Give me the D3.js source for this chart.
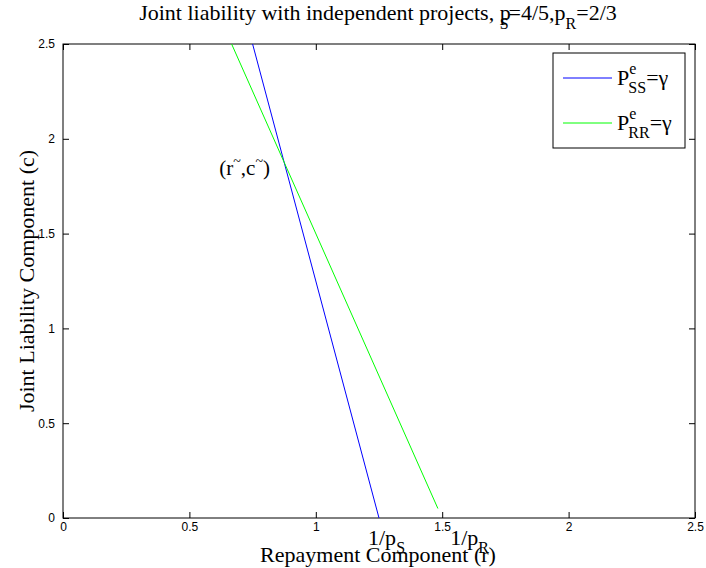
<!DOCTYPE html>
<html>
<head>
<meta charset="utf-8">
<script src="https://cdn.jsdelivr.net/npm/d3@7"></script>
<style>
body { margin:0; background:#fff; }
svg { display:block; }
.serif { font-family: "Liberation Serif", "Times New Roman", serif; }
.tick text { font-family: "Liberation Sans", Arial, sans-serif; font-size: 12px; }
</style>
</head>
<body>
<svg id="chart" width="706" height="568"></svg>
<script>
// axis domain and ticks
var xTicks = [0, 0.5, 1, 1.5, 2, 2.5];
var yTicks = [0, 0.5, 1, 1.5, 2, 2.5];

// P_SS^e = gamma  (r, c) endpoints
var ssLine = [[0.75, 2.5], [1.25, 0]];
// P_RR^e = gamma
var rrLine = [[0.667, 2.5], [1.483, 0.05]];

var seriesNames = ['SS', 'RR'];
var seriesColors = ['#0000ff', '#00ff00'];

var margin = {top: 44, right: 11, bottom: 50, left: 63},
    width = 706 - margin.left - margin.right,
    height = 568 - margin.top - margin.bottom;

var svg = d3.select('#chart');
var g = svg.append('g').attr('transform', 'translate(' + margin.left + ',' + margin.top + ')');

var x = d3.scaleLinear().domain([0, 2.5]).range([0, width]);
var y = d3.scaleLinear().domain([0, 2.5]).range([height, 0]);

g.append('clipPath').attr('id', 'clip').append('rect').attr('width', width).attr('height', height);

// axes: ticks inward on all 4 sides
g.append('g').attr('class', 'tick-x').attr('transform', 'translate(0,' + height + ')')
    .call(d3.axisBottom(x).tickValues(xTicks).tickSize(-6).tickPadding(8).tickFormat(d3.format('')))
    .call(a => a.select('.domain').remove());
g.append('g').call(d3.axisTop(x).tickValues(xTicks).tickSize(-6).tickFormat(''))
    .call(a => a.select('.domain').remove());
g.append('g').call(d3.axisLeft(y).tickValues(yTicks).tickSize(-6).tickPadding(8).tickFormat(d3.format('')))
    .call(a => a.select('.domain').remove());
g.append('g').attr('transform', 'translate(' + width + ',0)')
    .call(d3.axisRight(y).tickValues(yTicks).tickSize(-6).tickFormat(''))
    .call(a => a.select('.domain').remove());
g.selectAll('.tick line').attr('stroke', '#000');
g.selectAll('.tick-x text').attr('dy', '0.45em');

g.append('rect').attr('width', width).attr('height', height)
    .attr('fill', 'none').attr('stroke', '#000').attr('stroke-width', 1);

var line = d3.line().x(d => x(d[0])).y(d => y(d[1]));
[ssLine, rrLine].forEach(function(data, i) {
    g.append('path').datum(data).attr('d', line)
        .attr('clip-path', 'url(#clip)')
        .attr('fill', 'none').attr('stroke', seriesColors[i]).attr('stroke-width', 1);
});

// title
var title = svg.append('text').attr('class', 'serif').attr('x', 378).attr('y', 20)
    .attr('text-anchor', 'middle').style('font-size', '22px');
title.append('tspan').text('Joint liability with independent projects, p');
title.append('tspan').attr('dx', -11).attr('dy', 9).style('font-size', '16px').text('S');
title.append('tspan').attr('dy', -9).text('=4/5,p');
title.append('tspan').attr('dy', 9).style('font-size', '16px').text('R');
title.append('tspan').attr('dy', -9).text('=2/3');

// axis labels
svg.append('text').attr('class', 'serif').attr('x', 378).attr('y', 562)
    .attr('text-anchor', 'middle').style('font-size', '22px').text('Repayment Component (r)');
svg.append('text').attr('class', 'serif')
    .attr('transform', 'translate(34,' + (margin.top + height / 2) + ') rotate(-90)')
    .attr('text-anchor', 'middle').style('font-size', '22px').text('Joint Liability Component (c)');

// 1/p_S and 1/p_R labels
function pLabel(xv, off, sub) {
    var t = g.append('text').attr('class', 'serif').attr('x', x(xv) + off).attr('y', height + 27)
        .style('font-size', '22px');
    t.append('tspan').text('1/p');
    t.append('tspan').attr('dy', 8).style('font-size', '16px').text(sub);
}
pLabel(1.25, -11, 'S');
pLabel(1.5, 8, 'R');

// intersection label
var pt = g.append('text').attr('class', 'serif').attr('x', x(0.618)).attr('y', y(1.8) - 2)
    .style('font-size', '21px');
pt.append('tspan').text('(r');
pt.append('tspan').attr('dy', -9).style('font-size', '14px').text('~');
pt.append('tspan').attr('dy', 9).text(',c');
pt.append('tspan').attr('dy', -9).style('font-size', '14px').text('~');
pt.append('tspan').attr('dy', 9).text(')');

// legend
var lg = svg.append('g').attr('transform', 'translate(553,53)');
lg.append('rect').attr('width', 132).attr('height', 95).attr('fill', '#fff').attr('stroke', '#000');
seriesNames.forEach(function(s, i) {
    var yy = 25 + i * 45;
    lg.append('line').attr('x1', 10).attr('x2', 59).attr('y1', yy).attr('y2', yy)
        .attr('stroke', seriesColors[i]);
    var t = lg.append('text').attr('class', 'serif').attr('x', 64).attr('y', yy + 7)
        .style('font-size', '22px');
    t.append('tspan').text('P');
    t.append('tspan').attr('dy', -11).style('font-size', '16px').text('e');
    t.append('tspan').attr('dx', -8).attr('dy', 19).style('font-size', '16px').text(s);
    t.append('tspan').attr('dy', -8).text('=γ');
});
</script>
</body>
</html>
